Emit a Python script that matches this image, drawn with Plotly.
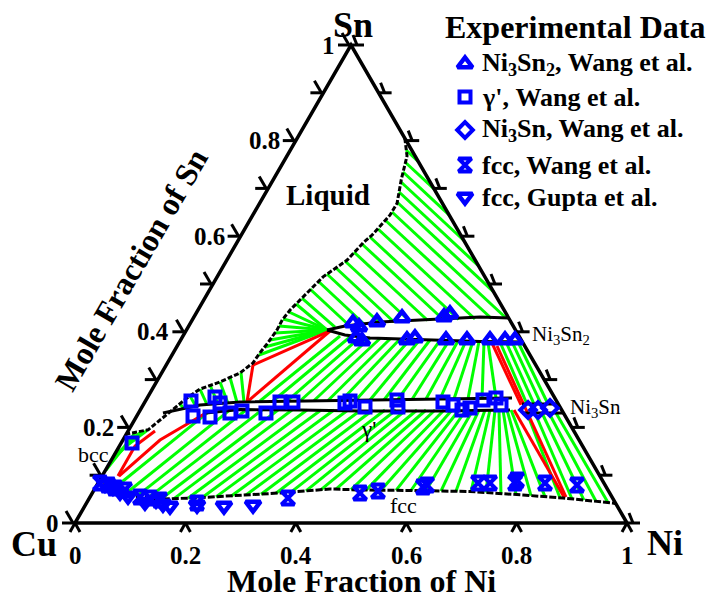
import plotly.graph_objects as go

# ---------------- phase boundaries, compositions (x_Ni, x_Sn) ----------------
liq_ni = [0.195, 0.2175, 0.232, 0.249, 0.2485, 0.244, 0.237, 0.229, 0.218, 0.192, 0.180,
          0.167, 0.163, 0.164, 0.161, 0.157, 0.155, 0.142, 0.115, 0.086, 0.072, 0.058,
          0.047, 0.035, 0.0]
liq_sn = [0.805, 0.768, 0.718, 0.669, 0.644, 0.628, 0.6025, 0.586, 0.550, 0.515, 0.481,
          0.446, 0.425, 0.404, 0.377, 0.356, 0.335, 0.314, 0.295, 0.280, 0.2615, 0.236,
          0.213, 0.195, 0.186]

fcc_ni = [0.0099, 0.040, 0.066, 0.129, 0.188, 0.258, 0.340, 0.4264, 0.487, 0.573, 0.6826,
          0.782, 0.858, 0.9537, 0.96]
fcc_sn = [0.0816, 0.0649, 0.0565, 0.0502, 0.0523, 0.0565, 0.0628, 0.0711, 0.069, 0.068,
          0.0659, 0.0586, 0.0523, 0.0418, 0.040]

ni3sn2_up_ni = [0.2546, 0.283, 0.3422, 0.4302, 0.5182, 0.5711]
ni3sn2_up_sn = [0.4038, 0.4121, 0.4205, 0.4257, 0.431, 0.4289]
ni3sn2_lo_ni = [0.2546, 0.2924, 0.3409, 0.4517, 0.5438, 0.6213]
ni3sn2_lo_sn = [0.4038, 0.3933, 0.387, 0.3828, 0.3797, 0.3787]

gam_up_ni = [0.0443, 0.103, 0.1723, 0.28, 0.3876, 0.5315, 0.6609]
gam_up_sn = [0.2301, 0.2469, 0.2531, 0.2552, 0.2573, 0.2594, 0.2615]
gam_lo_ni = [0.1222, 0.1802, 0.2894, 0.3991, 0.544, 0.6698]
gam_lo_sn = [0.2301, 0.2374, 0.2364, 0.2343, 0.2343, 0.2364]

ni3sn_up_ni = [0.6853, 0.751]
ni3sn_up_sn = [0.249, 0.249]
ni3sn_lo_ni = [0.6947, 0.7699]
ni3sn_lo_sn = [0.2301, 0.2301]

# ---------------- three-phase triangle edges (red) ----------------
red_lines = [
    [(0.1572, 0.3305), (0.2612, 0.4017)],
    [(0.185, 0.2531), (0.2612, 0.4017)],
    [(0.1572, 0.3305), (0.185, 0.2531)],
    [(0.5671, 0.3766), (0.6846, 0.2469)],
    [(0.5794, 0.3703), (0.8623, 0.0544)],
    [(0.6771, 0.2364), (0.8587, 0.0544)],
    [(0.0287, 0.0983), (0.0282, 0.1611), (0.0487, 0.1925)],
    [(0.0305, 0.0983), (0.0672, 0.1736), (0.1222, 0.2301)],
]

# ---------------- tie lines (green): (Ni_1, Sn_1, Ni_2, Sn_2) ----------------
tie_liq_ni3sn2 = [
    (0.2094, 0.7803, 0.2433, 0.7567), (0.2202, 0.7552, 0.3017, 0.6983),
    (0.2270, 0.7343, 0.3552, 0.6448), (0.2339, 0.7134, 0.4090, 0.5910),
    (0.2408, 0.6925, 0.4623, 0.5377), (0.2475, 0.6715, 0.5159, 0.4841),
    (0.2490, 0.6506, 0.5664, 0.4289), (0.2447, 0.6339, 0.5406, 0.4278),
    (0.2414, 0.6151, 0.5112, 0.4268), (0.2352, 0.5983, 0.4822, 0.4257),
    (0.2281, 0.5837, 0.4556, 0.4247), (0.2219, 0.5669, 0.4272, 0.4236),
    (0.2150, 0.5481, 0.3947, 0.4226), (0.2061, 0.5335, 0.3676, 0.4205),
    (0.1960, 0.5209, 0.3428, 0.4184), (0.1871, 0.5063, 0.3154, 0.4163),
    (0.1809, 0.4895, 0.2887, 0.4142), (0.1758, 0.4707, 0.2660, 0.4100),
    (0.1713, 0.4582, 0.2546, 0.4038), (0.1670, 0.4414, 0.2546, 0.4038),
    (0.1634, 0.4268, 0.2546, 0.4038), (0.1635, 0.4121, 0.2546, 0.4038),
    (0.1636, 0.3975, 0.2546, 0.4038), (0.1619, 0.3828, 0.2546, 0.4038),
    (0.1601, 0.3682, 0.2546, 0.4038), (0.1576, 0.3515, 0.2546, 0.4038),
]
tie_liq_gam = [
    (0.0657, 0.2490, 0.0777, 0.2395), (0.0755, 0.2657, 0.0973, 0.2437),
    (0.0862, 0.2803, 0.1151, 0.2479), (0.1002, 0.2887, 0.1346, 0.2490),
    (0.1152, 0.2950, 0.1522, 0.2500), (0.1286, 0.3044, 0.1675, 0.2521),
    (0.1433, 0.3149, 0.1796, 0.2531),
]
tie_liq_bcc = [
    (0.0008, 0.1109, 0.0146, 0.1883), (0.0000, 0.1276, 0.0239, 0.1914),
    (0.0000, 0.1423, 0.0336, 0.1935),
]
tie_gam_ni3sn2 = [
    (0.2075, 0.2552, 0.2845, 0.3912), (0.2311, 0.2552, 0.3036, 0.3891),
    (0.2565, 0.2552, 0.3223, 0.3881), (0.2800, 0.2552, 0.3409, 0.3870),
    (0.3049, 0.2563, 0.3595, 0.3860), (0.3302, 0.2563, 0.3782, 0.3849),
    (0.3550, 0.2573, 0.3963, 0.3849), (0.3804, 0.2573, 0.4150, 0.3839),
    (0.4057, 0.2573, 0.4331, 0.3839), (0.4311, 0.2573, 0.4517, 0.3828),
    (0.4559, 0.2584, 0.4701, 0.3822), (0.4813, 0.2584, 0.4867, 0.3816),
    (0.5062, 0.2594, 0.5034, 0.3808), (0.5315, 0.2594, 0.5179, 0.3808),
    (0.5569, 0.2594, 0.5309, 0.3801), (0.5818, 0.2605, 0.5420, 0.3797),
    (0.6071, 0.2605, 0.5516, 0.3787), (0.6319, 0.2615, 0.5594, 0.3776),
]
tie_ni3sn2_ni3sn = [
    (0.5806, 0.3787, 0.6943, 0.2490), (0.5915, 0.3787, 0.7070, 0.2490),
    (0.6024, 0.3787, 0.7197, 0.2490), (0.6132, 0.3787, 0.7324, 0.2490),
]
tie_fcc_gam = [
    (0.0325, 0.0690, 0.1271, 0.2350), (0.0595, 0.0586, 0.1615, 0.2350),
    (0.0831, 0.0548, 0.1916, 0.2364), (0.1059, 0.0525, 0.2206, 0.2364),
    (0.1307, 0.0502, 0.2496, 0.2364), (0.1538, 0.0510, 0.2749, 0.2364),
    (0.1787, 0.0519, 0.3021, 0.2364), (0.2036, 0.0529, 0.3275, 0.2364),
    (0.2281, 0.0546, 0.3510, 0.2364), (0.2546, 0.0561, 0.3764, 0.2364),
    (0.2806, 0.0584, 0.3999, 0.2364), (0.3069, 0.0603, 0.4217, 0.2364),
    (0.3329, 0.0623, 0.4434, 0.2364), (0.3590, 0.0646, 0.4633, 0.2364),
    (0.3849, 0.0672, 0.4814, 0.2364), (0.4109, 0.0697, 0.5014, 0.2364),
    (0.4374, 0.0707, 0.5177, 0.2364), (0.4651, 0.0699, 0.5340, 0.2364),
    (0.4928, 0.0688, 0.5503, 0.2364), (0.5201, 0.0684, 0.5648, 0.2364),
    (0.5474, 0.0682, 0.5775, 0.2364), (0.5747, 0.0680, 0.5901, 0.2364),
    (0.6022, 0.0674, 0.6028, 0.2364), (0.6295, 0.0669, 0.6137, 0.2364),
    (0.6570, 0.0663, 0.6246, 0.2364), (0.6844, 0.0659, 0.6336, 0.2364),
    (0.7127, 0.0638, 0.6427, 0.2364), (0.7408, 0.0617, 0.6499, 0.2364),
    (0.7690, 0.0598, 0.6572, 0.2364), (0.7974, 0.0573, 0.6644, 0.2364),
    (0.8238, 0.0552, 0.6717, 0.2364),
]
tie_fcc_ni3sn = [
    (0.8522, 0.0527, 0.7037, 0.2301), (0.8753, 0.0502, 0.7182, 0.2301),
    (0.8982, 0.0477, 0.7309, 0.2301), (0.9211, 0.0454, 0.7436, 0.2301),
    (0.9441, 0.0429, 0.7563, 0.2301),
]

# ---------------- experimental points ----------------
ni3sn2_ni = [0.2944, 0.3095, 0.3155, 0.3295, 0.3368, 0.378, 0.41, 0.4224, 0.453, 0.4607,
             0.4807, 0.5187, 0.5604, 0.5876, 0.6057]
ni3sn2_sn = [0.4184, 0.410, 0.387, 0.3808, 0.4205, 0.4289, 0.3828, 0.387, 0.431, 0.4372,
             0.3828, 0.3828, 0.3828, 0.3828, 0.3828]

gp_ni = [0.0196, 0.0825, 0.1019, 0.1337, 0.1218, 0.1372, 0.1657, 0.1853, 0.2309, 0.2448,
         0.2683, 0.3636, 0.3706, 0.404, 0.4546, 0.4637, 0.5401, 0.5614, 0.5829, 0.5953,
         0.6104, 0.6319, 0.6483]
gp_sn = [0.1674, 0.2552, 0.2238, 0.2218, 0.2636, 0.251, 0.2301, 0.2343, 0.2301, 0.2531,
         0.2531, 0.251, 0.2552, 0.2427, 0.2573, 0.2427, 0.2531, 0.2469, 0.2364, 0.2406,
         0.2573, 0.2615, 0.2469]

ni3sn_ni = [0.7025, 0.7206, 0.7402]
ni3sn_sn = [0.2364, 0.2364, 0.2406]

fccw_ni = [0.0035, 0.0201, 0.0359, 0.0561, 0.0906, 0.1097, 0.13, 0.2001, 0.3597, 0.4849,
           0.5154, 0.5927, 0.598, 0.6883, 0.71, 0.7553, 0.7557, 0.8096, 0.8697]
fccw_sn = [0.0837, 0.0795, 0.0732, 0.069, 0.0544, 0.0523, 0.0481, 0.0418, 0.0523, 0.0628,
           0.0669, 0.0753, 0.0795, 0.0837, 0.0837, 0.0837, 0.09, 0.0837, 0.0795]

fccg_ni = [0.0135, 0.0311, 0.0491, 0.0678, 0.1048, 0.1227, 0.1395, 0.1543, 0.2022, 0.2521,
           0.3037]
fccg_sn = [0.0816, 0.0753, 0.0649, 0.0565, 0.0439, 0.0481, 0.0397, 0.0356, 0.0377, 0.0356,
           0.0377]

# ---------------- axis ticks and labels ----------------
minor_ticks = [i / 10 for i in range(11)]
major_ticks = [0, 0.2, 0.4, 0.6, 0.8, 1]
major_text = ["0", "0.2", "0.4", "0.6", "0.8", "1"]

# phase labels: (text, Ni, Sn, font size)
phase_labels = [("<b>Liquid</b>", 0.115, 0.686, 29),
                ("γ'", 0.4335, 0.1946, 23),
                ("fcc", 0.578, 0.0356, 22),
                ("bcc", -0.0385, 0.1423, 22)]

# ---------------- geometry helpers ----------------
PX_X = 552.0   # pixels per unit of the horizontal triangle coordinate
PX_Y = 478.0   # pixels per unit of Sn fraction (triangle height)


def cart(ni, sn):
    return ni + sn / 2.0, sn


def poly(ni, sn):
    xs, ys = [], []
    for a, b in zip(ni, sn):
        x, y = cart(a, b)
        xs.append(x)
        ys.append(y)
    return xs, ys


def segments(pairs):
    xs, ys = [], []
    for n1, s1, n2, s2 in pairs:
        x1, y1 = cart(n1, s1)
        x2, y2 = cart(n2, s2)
        xs += [x1, x2, None]
        ys += [y1, y2, None]
    return xs, ys


def off(x, y, dx_px, dy_px):
    return x + dx_px / PX_X, y + dy_px / PX_Y


fig = go.Figure()
FONT = "Liberation Serif"
BLUE = "#0000ff"


def add_lines(xs, ys, color, width, dash="solid"):
    fig.add_trace(go.Scatter(x=xs, y=ys, mode="lines", showlegend=False,
                             hoverinfo="skip",
                             line=dict(color=color, width=width, dash=dash)))


# tie lines
for group in (tie_liq_ni3sn2, tie_liq_gam, tie_liq_bcc, tie_gam_ni3sn2,
              tie_ni3sn2_ni3sn, tie_fcc_gam, tie_fcc_ni3sn):
    xs, ys = segments(group)
    add_lines(xs, ys, "#00ff00", 3)

# three-phase triangles
rx, ry = [], []
for pts in red_lines:
    for n, s in pts:
        x, y = cart(n, s)
        rx.append(x)
        ry.append(y)
    rx.append(None)
    ry.append(None)
add_lines(rx, ry, "#ff0000", 3)

# phase boundaries
for ni, sn in ((ni3sn2_up_ni, ni3sn2_up_sn), (ni3sn2_lo_ni, ni3sn2_lo_sn),
               (gam_up_ni, gam_up_sn), (gam_lo_ni, gam_lo_sn),
               (ni3sn_up_ni, ni3sn_up_sn), (ni3sn_lo_ni, ni3sn_lo_sn)):
    xs, ys = poly(ni, sn)
    add_lines(xs, ys, "black", 3)
xs, ys = poly(liq_ni, liq_sn)
add_lines(xs, ys, "black", 3, dash="5px,2px")
xs, ys = poly(fcc_ni, fcc_sn)
add_lines(xs, ys, "black", 3, dash="7px,2px")

# triangle frame
fx, fy = poly([0, 1, 0, 0], [0, 0, 1, 0])
add_lines(fx, fy, "black", 3.5)

# tick marks
tx, ty = [], []
for v in minor_ticks:
    # Cu-Sn edge
    x, y = cart(0, v)
    for (a, b), (c, d) in (((0, 0), (-13, 0)), ((-2, 0), (-9, 12))):
        p = off(x, y, a, b)
        q = off(x, y, c, d)
        tx += [p[0], q[0], None]
        ty += [p[1], q[1], None]
    # Ni-Sn edge
    x, y = cart(1 - v, v)
    for (a, b), (c, d) in (((0, 0), (13, 0)), ((6, 0), (2, 10))):
        p = off(x, y, a, b)
        q = off(x, y, c, d)
        tx += [p[0], q[0], None]
        ty += [p[1], q[1], None]
for v in major_ticks:
    x, y = cart(v, 0)
    for (c, d) in ((-5, -9), (5, -9)):
        q = off(x, y, c, d)
        tx += [x, q[0], None]
        ty += [y, q[1], None]
add_lines(tx, ty, "black", 3)

# experimental data: (key text, Ni, Sn, symbol, size, outline width)
series = [
    ("<b>Ni<sub>3</sub>Sn<sub>2</sub>, Wang et al.</b>", ni3sn2_ni, ni3sn2_sn,
     "triangle-up-open", 13, 4.5),
    ("<b>γ', Wang et al.</b>", gp_ni, gp_sn, "square-open", 11, 4),
    ("<b>Ni<sub>3</sub>Sn, Wang et al.</b>", ni3sn_ni, ni3sn_sn, "diamond-open", 12, 4),
    ("<b>fcc, Wang et al.</b>", fccw_ni, fccw_sn, "hourglass-open", 13, 4),
    ("<b>fcc, Gupta et al.</b>", fccg_ni, fccg_sn, "triangle-down-open", 13, 4.5),
]
for name, ni, sn, sym, size, lw in series:
    xs, ys = poly(ni, sn)
    fig.add_trace(go.Scatter(x=xs, y=ys, mode="markers", name=name, showlegend=False,
                             marker=dict(symbol=sym, size=size, color=BLUE,
                                         line=dict(color=BLUE, width=lw))))

# key for the experimental data, laid out on a pixel-unit overlay axis pair
KEY_X = 465
KEY_TEXT_X = 480
KEY_ROWS = [64, 97, 130, 165, 197]
for (name, _, _, sym, size, lw), row in zip(series, KEY_ROWS):
    fig.add_trace(go.Scatter(
        x=[KEY_X], y=[row], xaxis="x2", yaxis="y2", mode="markers",
        showlegend=False, hoverinfo="skip",
        marker=dict(symbol=sym, size=size, color=BLUE,
                    line=dict(color=BLUE, width=lw))))

ann = []
ann.append(dict(x=575, y=27, xref="x2", yref="y2", text="<b>Experimental Data</b>",
                showarrow=False, xanchor="center", yanchor="middle", font=dict(size=32)))
for (name, _, _, _, _, _), row in zip(series, KEY_ROWS):
    ann.append(dict(x=KEY_TEXT_X, y=row, xref="x2", yref="y2", text=name,
                    showarrow=False, xanchor="left", yanchor="middle",
                    font=dict(size=26)))

# Sn tick labels along the Cu-Sn edge
for v, t in zip(major_ticks, major_text):
    x, y = cart(0, v)
    ann.append(dict(x=x, y=y, text="<b>%s</b>" % t, showarrow=False, xanchor="right",
                    yanchor="middle", xshift=-14, font=dict(size=25)))
# Ni tick labels along the Cu-Ni edge
for v, t in zip(major_ticks, major_text):
    x, y = cart(v, 0)
    ann.append(dict(x=x, y=y, text="<b>%s</b>" % t, showarrow=False, xanchor="center",
                    yanchor="middle", yshift=-32, font=dict(size=25)))
# corner element labels
ann.append(dict(x=0, y=0, text="<b>Cu</b>", showarrow=False, xshift=-41, yshift=-21,
                font=dict(size=36)))
ann.append(dict(x=1, y=0, text="<b>Ni</b>", showarrow=False, xshift=38, yshift=-20,
                font=dict(size=36)))
ann.append(dict(x=0.5, y=1, text="<b>Sn</b>", showarrow=False, xshift=2, yshift=20,
                font=dict(size=36)))
# axis titles
ann.append(dict(x=0.5, y=0, text="<b>Mole Fraction of Ni</b>", showarrow=False,
                xshift=10, yshift=-58, font=dict(size=32)))
mx, my = cart(0, 0.5)
ann.append(dict(x=mx, y=my, text="<b>Mole Fraction of Sn</b>", showarrow=False,
                xshift=-82, yshift=14, textangle=-60, font=dict(size=32)))
# phase labels
for t, n, s, fs in phase_labels:
    x, y = cart(n, s)
    ann.append(dict(x=x, y=y, text=t, showarrow=False, font=dict(size=fs)))
x, y = cart(0.607, 0.393)
ann.append(dict(x=x, y=y, text="Ni<sub>3</sub>Sn<sub>2</sub>", showarrow=False,
                xanchor="left", xshift=11, font=dict(size=21)))
x, y = cart(0.7594, 0.2406)
ann.append(dict(x=x, y=y, text="Ni<sub>3</sub>Sn", showarrow=False,
                xanchor="left", xshift=7, font=dict(size=21)))

fig.update_layout(
    width=710, height=599, autosize=False,
    margin=dict(l=0, r=0, t=0, b=0),
    paper_bgcolor="white", plot_bgcolor="white",
    font=dict(family=FONT, color="black"),
    xaxis=dict(range=[-75 / PX_X, 635 / PX_X], visible=False, fixedrange=True),
    yaxis=dict(range=[-76 / PX_Y, 523 / PX_Y], visible=False, fixedrange=True),
    xaxis2=dict(range=[0, 710], overlaying="x", visible=False, fixedrange=True),
    yaxis2=dict(range=[599, 0], overlaying="y", visible=False, fixedrange=True),
    annotations=ann,
    showlegend=False,
)

fig.write_html("out.html")
